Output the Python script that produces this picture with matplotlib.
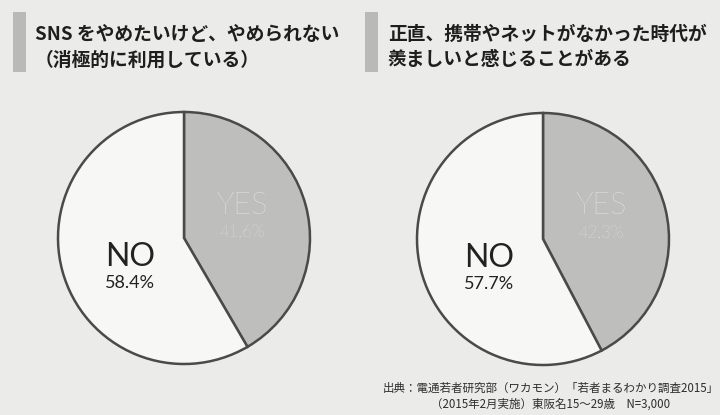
import matplotlib.pyplot as plt

plt.rcParams['font.family'] = ['Noto Sans CJK JP', 'DejaVu Sans']

# survey answers (percent)
titles = [
    "SNS をやめたいけど、やめられない\n（消極的に利用している）",
    "正直、携帯やネットがなかった時代が\n羨ましいと感じることがある",
]
yes_share = [41.6, 42.3]
no_share = [58.4, 57.7]
source = ("出典：電通若者研究部（ワカモン）「若者まるわかり調査2015」\n"
          "（2015年2月実施）東阪名15～29歳　N=3,000")

W, H = 720, 415
bg = "#ebebea"
yes_color = "#bebebc"
no_color = "#f7f7f6"
edge = "#4a4a4a"

fig = plt.figure(figsize=(W / 100, H / 100), dpi=100, facecolor=bg)
ax = fig.add_axes([0, 0, 1, 1])
ax.set_facecolor(bg)

centers = [(184, 238), (543, 239)]
radius = 126
title_x = [(13, 35), (365, 388)]
latin = ['Lato', 'DejaVu Sans']

for i in range(2):
    cx, cy = centers[i]
    ax.pie([yes_share[i], no_share[i]], startangle=90, counterclock=False,
           center=(cx, H - cy), radius=radius, colors=[yes_color, no_color],
           wedgeprops=dict(edgecolor=edge, linewidth=1.8), frame=True)

    # YES / NO labels inside the wedges
    ax.text(cx + 58, H - (cy - 33), "YES", color="#f8f8f6", fontsize=22,
            family=latin, weight='light', ha='center', va='center')
    ax.text(cx + 58, H - (cy - 6), f"{yes_share[i]:.1f}%", color="#f8f8f6",
            fontsize=12, family=latin, weight='light', ha='center', va='center')
    ax.text(cx - 54, H - (cy + 19), "NO", color="#222222", fontsize=23,
            family=latin, ha='center', va='center')
    ax.text(cx - 54, H - (cy + 45), f"{no_share[i]:.1f}%", color="#222222",
            fontsize=13, family=latin, ha='center', va='center')

    # heading with grey side bar
    bx, tx = title_x[i]
    ax.add_patch(plt.Rectangle((bx, H - 72), 13, 60, color="#b9b9b7", lw=0))
    ax.text(tx, H - 47, titles[i], fontsize=13.5, color="#1e1e1e",
            weight='bold', ha='left', va='center', linespacing=1.45)

ax.text(551, H - 396, source, fontsize=8.3, color="#2e2e2e", ha='center',
        va='center', linespacing=1.3)

ax.set_xlim(0, W)
ax.set_ylim(0, H)
ax.set_aspect('auto')
ax.axis('off')

fig.savefig("out.png", dpi=100, facecolor=bg)
